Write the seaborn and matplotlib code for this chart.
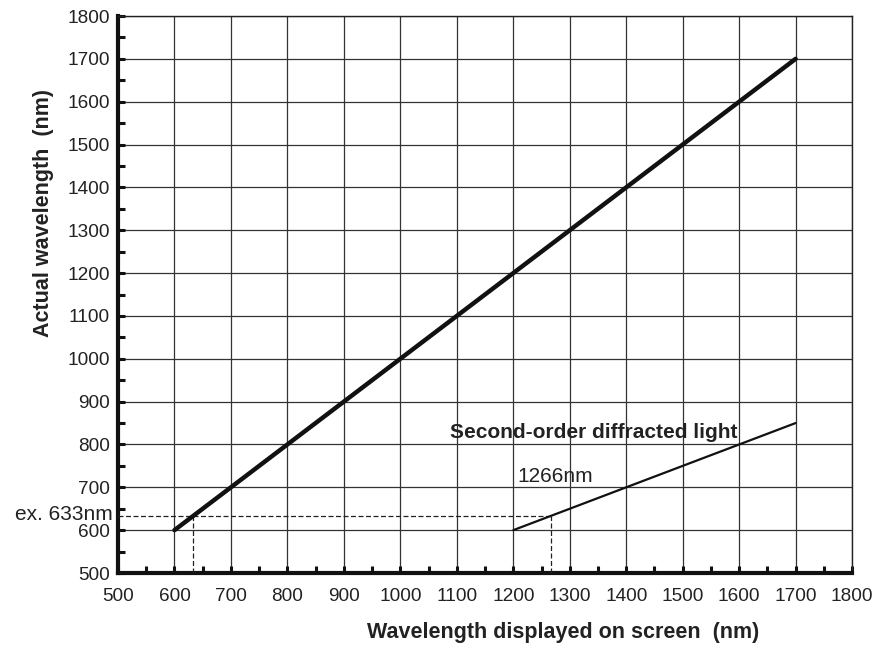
import numpy as np
import pandas as pd
import matplotlib
matplotlib.use("Agg")
import matplotlib.pyplot as plt
import seaborn as sns
from matplotlib.ticker import MultipleLocator

# first-order line: displayed vs actual
first_x = [600, 1700]
first_y = [600, 1700]
# second-order diffracted light
second_x = [1200, 1700]
second_y = [600, 850]
# example 633 nm
ex_actual = 633
ex_displayed = 1266

sns.set_theme(style="white")
plt.rcParams['font.family'] = ['Liberation Sans', 'DejaVu Sans']

fig = plt.figure(figsize=(8.83, 6.51), dpi=100)
ax = fig.add_axes([0.1336, 0.1198, 0.965 - 0.1336, 0.9754 - 0.1198])

df1 = pd.DataFrame({"x": first_x, "y": first_y})
df2 = pd.DataFrame({"x": second_x, "y": second_y})

sns.lineplot(data=df1, x="x", y="y", ax=ax, color="#111111", linewidth=3.2,
             solid_capstyle="round", zorder=5)
sns.lineplot(data=df2, x="x", y="y", ax=ax, color="#111111", linewidth=1.6, zorder=5)

# dashed guides
ax.plot([500, ex_displayed], [ex_actual, ex_actual], ls=(0, (4, 2)), color="#222222", lw=0.9, zorder=4)
ax.plot([ex_actual, ex_actual], [500, ex_actual], ls=(0, (4, 2)), color="#222222", lw=0.9, zorder=4)
ax.plot([ex_displayed, ex_displayed], [500, ex_actual], ls=(0, (4, 2)), color="#222222", lw=0.9, zorder=4)

ax.set_xlim(500, 1800)
ax.set_ylim(500, 1800)
ax.xaxis.set_major_locator(MultipleLocator(100))
ax.yaxis.set_major_locator(MultipleLocator(100))
ax.xaxis.set_minor_locator(MultipleLocator(50))
ax.yaxis.set_minor_locator(MultipleLocator(50))

ax.grid(True, which="major", color="#333333", linewidth=0.9)
ax.set_axisbelow(True)

for side in ["top", "right"]:
    ax.spines[side].set_linewidth(1.0)
    ax.spines[side].set_color("#222222")
for side in ["left", "bottom"]:
    ax.spines[side].set_linewidth(3.0)
    ax.spines[side].set_color("#111111")

ax.tick_params(which="both", direction="in", length=5, width=2.2, color="#111111",
               top=False, right=False, left=True, bottom=True)
ax.tick_params(axis="x", which="major", labelsize=13.7, labelcolor="#222222", pad=11)
ax.tick_params(axis="y", which="major", labelsize=13.7, labelcolor="#222222", pad=6)

ax.set_xlabel("Wavelength displayed on screen  (nm)", fontsize=15.5, fontweight="bold",
              color="#222222", labelpad=12)
ax.set_ylabel("Actual wavelength  (nm)", fontsize=15.5, fontweight="bold",
              color="#222222")
# labels are off-centre in the original
ax.xaxis.label.set_x(0.607)
ax.yaxis.set_label_coords(-0.087, 0.646)

ax.text(-0.007, 0.105, "ex. 633nm", transform=ax.transAxes,
        ha="right", va="center", fontsize=15, color="#222222")
ax.text(1088, 828, "Second-order diffracted light", fontsize=15, fontweight="bold",
        color="#222222", va="center", ha="left")
ax.text(1208, 726, "1266nm", fontsize=15, color="#222222", va="center", ha="left")

fig.savefig("out.png", dpi=100)
